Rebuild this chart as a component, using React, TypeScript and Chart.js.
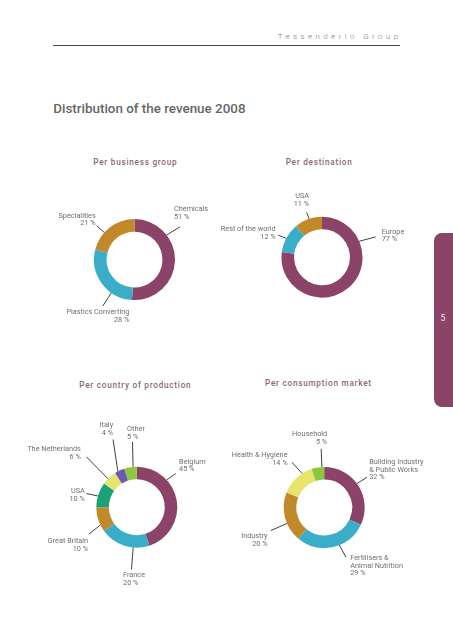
import React, { useEffect, useRef } from "react";
import { Chart, registerables } from "chart.js";
Chart.register(...registerables);

// ---------- data ----------
const businessLabels = [["Chemicals"], ["Plastics Converting"], ["Specialities"]];
const businessValues = [51, 28, 21];

const destinationLabels = [["Europe"], ["Rest of the world"], ["USA"]];
const destinationValues = [77, 12, 11];

const countryLabels = [["Belgium"], ["France"], ["Great Britain"], ["USA"], ["The Netherlands"], ["Italy"], ["Other"]];
const countryValues = [45, 20, 10, 10, 6, 4, 5];

const marketLabels = [["Building Industry", "& Public Works"], ["Fertilisers &", "Animal Nutrition"], ["Industry"], ["Health & Hygiene"], ["Household"]];
const marketValues = [32, 29, 20, 14, 5];

// ---------- styles ----------
const PURPLE = "#8b4367";
const CYAN = "#3aaec9";
const GOLD = "#c2892b";
const GREEN = "#1ca277";
const YELLOW = "#e6e46c";
const VIOLET = "#6a5ab3";
const LIME = "#8dc63f";

const W = 453;
const H = 640;
const R = 40.5;
const FONT = "Roboto, 'Noto Sans', sans-serif";

type Lay = { a: number; ex: number; ey: number; tx: number; ty: number; align: "left" | "right" };

const businessLayout: Lay[] = [
  { a: 52.7, ex: 45.5, ey: -32.8, tx: 39.5, ty: -50.2, align: "left" },
  { a: 214.8, ex: -31.8, ey: 46.5, tx: -5.2, ty: 52.8, align: "right" },
  { a: 312, ex: -37.8, ey: -33.8, tx: -38.8, ty: -43.8, align: "right" },
];
const destinationLayout: Lay[] = [
  { a: 66.8, ex: 53.7, ey: -20.3, tx: 59.7, ty: -25.3, align: "left" },
  { a: 297.8, ex: -43.7, ey: -22, tx: -46.3, ty: -28, align: "right" },
  { a: 341.4, ex: -15.3, ey: -44.7, tx: -13, ty: -61, align: "right" },
];
const countryLayout: Lay[] = [
  { a: 47.6, ex: 39, ey: -33.7, tx: 42.3, ty: -45.3, align: "left" },
  { a: 185.2, ex: -5.3, ey: 62.3, tx: -13.7, ty: 68, align: "left" },
  { a: 244, ex: -48, ey: 27, tx: -48.7, ty: 34, align: "right" },
  { a: 286.1, ex: -50.3, ey: -13.7, tx: -52, ty: -16, align: "right" },
  { a: 314.6, ex: -50.3, ey: -50.3, tx: -56, ty: -57.7, align: "right" },
  { a: 332.1, ex: -23.7, ey: -67.7, tx: -23.7, ty: -82, align: "right" },
  { a: 354.7, ex: -4.3, ey: -65.3, tx: -9.7, ty: -77.7, align: "left" },
];
const marketLayout: Lay[] = [
  { a: 53.9, ex: 42.7, ey: -30.3, tx: 45, ty: -45.3, align: "left" },
  { a: 158, ex: 21.7, ey: 49.7, tx: 26, ty: 50.7, align: "left" },
  { a: 246.8, ex: -53.3, ey: 23, tx: -56.7, ty: 29, align: "right" },
  { a: 327, ex: -32.3, ey: -45.3, tx: -36.7, ty: -52, align: "right" },
  { a: 356.7, ex: -3, ey: -58.7, tx: 3, ty: -73, align: "right" },
];

const leaderPlugin = {
  id: "leaders",
  afterDatasetsDraw(chart: any, _args: any, opts: any) {
    const meta = chart.getDatasetMeta(0);
    const ctx: CanvasRenderingContext2D = chart.ctx;
    const labels = chart.data.labels as string[][];
    const values = chart.data.datasets[0].data as number[];
    const layout: Lay[] = opts.layout || [];
    ctx.save();
    meta.data.forEach((arc: any, i: number) => {
      const L = layout[i];
      if (!L) return;
      const p = arc.getProps(["x", "y", "outerRadius"], true);
      const ang = ((L.a - 90) * Math.PI) / 180;
      const sx = p.x + p.outerRadius * Math.cos(ang);
      const sy = p.y + p.outerRadius * Math.sin(ang);
      ctx.beginPath();
      ctx.moveTo(sx, sy);
      ctx.lineTo(p.x + L.ex, p.y + L.ey);
      ctx.strokeStyle = "#2b2b2b";
      ctx.lineWidth = 0.9;
      ctx.stroke();
      const lines = [...labels[i], `${values[i]} %`];
      ctx.font = `7.3px ${FONT}`;
      ctx.fillStyle = "#6f6f6f";
      ctx.textAlign = L.align;
      ctx.textBaseline = "middle";
      lines.forEach((t, k) => {
        ctx.fillText(t, p.x + L.tx, p.y + L.ty + k * 7.7);
      });
    });
    ctx.restore();
  },
};

function Donut(props: { labels: string[][]; values: number[]; colors: string[]; layout: Lay[]; cx: number; cy: number }) {
  const ref = useRef<HTMLCanvasElement | null>(null);
  useEffect(() => {
    if (!ref.current) return;
    const { cx, cy } = props;
    const chart = new Chart(ref.current, {
      type: "doughnut",
      data: {
        labels: props.labels as any,
        datasets: [{ data: props.values, backgroundColor: props.colors, borderWidth: 0 }],
      },
      options: {
        responsive: false,
        animation: false,
        cutout: "69%",
        events: [],
        layout: { padding: { left: cx - R, right: W - cx - R, top: cy - R, bottom: H - cy - R } },
        plugins: {
          legend: { display: false },
          tooltip: { enabled: false },
          leaders: { layout: props.layout },
        } as any,
      },
      plugins: [leaderPlugin as any],
    });
    return () => chart.destroy();
  }, []);
  return <canvas ref={ref} width={W} height={H} style={{ position: "absolute", left: 0, top: 0 }} />;
}

function Txt(props: { x: number; base: number; size: number; color: string; weight?: number; ls?: number; children: React.ReactNode }) {
  const { x, base, size, color, weight = 400, ls = 0 } = props;
  return (
    <div
      style={{
        position: "absolute",
        left: x,
        top: base - 0.842 * size,
        fontFamily: FONT,
        fontSize: size,
        lineHeight: 1,
        color,
        fontWeight: weight,
        letterSpacing: ls,
        whiteSpace: "nowrap",
      }}
    >
      {props.children}
    </div>
  );
}

export default function App() {
  const sub = "#8c6678";
  return (
    <div style={{ position: "absolute", left: 0, top: 0, width: W, height: H, background: "#fff", overflow: "hidden" }}>
      <Txt x={277.7} base={40} size={8} color="#7a7a7a" weight={300} ls={3.4}>
        Tessenderlo Group
      </Txt>
      <div style={{ position: "absolute", left: 53.3, top: 44.5, width: 346.7, height: 1.2, background: "#4a4a4a" }} />
      <Txt x={53.3} base={113.3} size={13.4} color="#666666" weight={500}>
        Distribution of the revenue 2008
      </Txt>
      <Txt x={93.3} base={165.3} size={8.2} color={sub} weight={500} ls={0.75}>
        Per business group
      </Txt>
      <Txt x={285.7} base={165.3} size={8.2} color={sub} weight={500} ls={0.75}>
        Per destination
      </Txt>
      <Txt x={79.3} base={388} size={8.2} color={sub} weight={500} ls={0.75}>
        Per country of production
      </Txt>
      <Txt x={265} base={386.3} size={8.2} color={sub} weight={500} ls={0.75}>
        Per consumption market
      </Txt>
      <div
        style={{
          position: "absolute",
          left: 434,
          top: 233,
          width: 40,
          height: 174,
          background: PURPLE,
          borderRadius: 8,
        }}
      />
      <Txt x={440.5} base={321} size={8.5} color="#f3e6ec" weight={400}>
        5
      </Txt>
      <Donut labels={businessLabels} values={businessValues} colors={[PURPLE, CYAN, GOLD]} layout={businessLayout} cx={134.5} cy={259.6} />
      <Donut labels={destinationLabels} values={destinationValues} colors={[PURPLE, CYAN, GOLD]} layout={destinationLayout} cx={322} cy={257.2} />
      <Donut
        labels={countryLabels}
        values={countryValues}
        colors={[PURPLE, CYAN, GOLD, GREEN, YELLOW, VIOLET, LIME]}
        layout={countryLayout}
        cx={136.8}
        cy={507.2}
      />
      <Donut labels={marketLabels} values={marketValues} colors={[PURPLE, CYAN, GOLD, YELLOW, LIME]} layout={marketLayout} cx={324.2} cy={507.5} />
    </div>
  );
}
